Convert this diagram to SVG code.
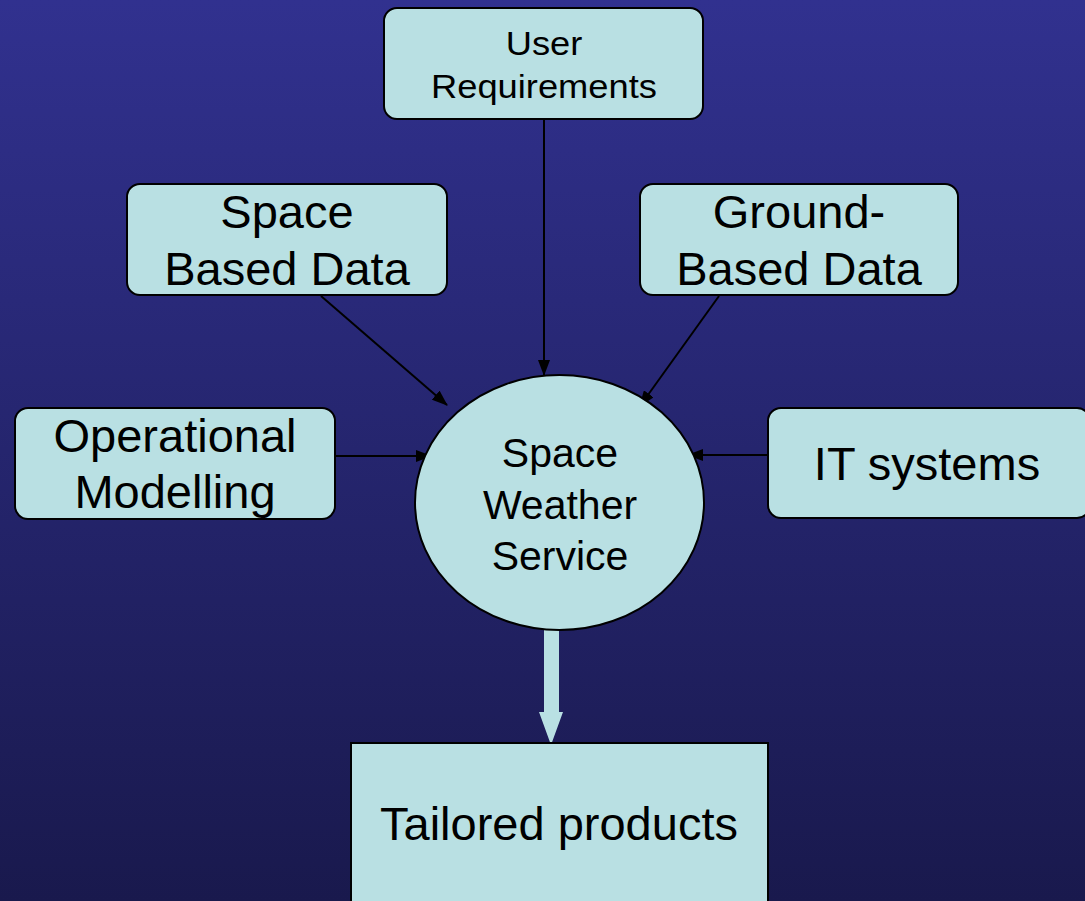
<svg xmlns="http://www.w3.org/2000/svg" width="1085" height="901" viewBox="0 0 1085 901">
  <style>
    .box { fill: #b9e0e3; stroke: #000; stroke-width: 2; }
    .lbl { font-family: "Liberation Sans", Arial, sans-serif; fill: #000; text-anchor: middle; }
    .edge { stroke: #000; stroke-width: 2; fill: none; }
  </style>
  <defs>
    <linearGradient id="bg" x1="0" y1="0" x2="0" y2="1">
      <stop offset="0" stop-color="#31318f"/>
      <stop offset="1" stop-color="#19194d"/>
    </linearGradient>
    <marker id="arrow" viewBox="0 0 16 12" refX="15" refY="6" markerWidth="16" markerHeight="12" markerUnits="userSpaceOnUse" orient="auto">
      <path d="M0,0 L16,6 L0,12 Z" fill="#000"/>
    </marker>
  </defs>

  <rect x="0" y="0" width="1085" height="901" fill="url(#bg)"/>

  <!-- connectors -->
  <g id="connectors">
    <line class="edge" x1="544" y1="119" x2="544" y2="375" marker-end="url(#arrow)"/>
    <line class="edge" x1="321" y1="296" x2="447" y2="405" marker-end="url(#arrow)"/>
    <line class="edge" x1="719" y1="296" x2="640" y2="406" marker-end="url(#arrow)"/>
    <line class="edge" x1="335" y1="456" x2="431" y2="456" marker-end="url(#arrow)"/>
    <line class="edge" x1="768" y1="455" x2="688" y2="455" marker-end="url(#arrow)"/>
    <!-- wide output arrow -->
    <path d="M544,628 L559,628 L559,712 L563,712 L551,745 L539,712 L544,712 Z" fill="#b9e0e3"/>
  </g>

  <g id="user-requirements">
    <rect class="box" x="384" y="8" width="319" height="111" rx="13"/>
    <text class="lbl" font-size="33" x="544" y="55" transform="translate(544 0) scale(1.1 1) translate(-544 0)">User</text>
    <text class="lbl" font-size="33" x="544" y="98" transform="translate(544 0) scale(1.1 1) translate(-544 0)">Requirements</text>
  </g>

  <g id="space-based-data">
    <rect class="box" x="127" y="184" width="320" height="111" rx="13"/>
    <text class="lbl" font-size="47" x="287" y="228">Space</text>
    <text class="lbl" font-size="47" x="287" y="285">Based Data</text>
  </g>

  <g id="ground-based-data">
    <rect class="box" x="640" y="184" width="318" height="111" rx="13"/>
    <text class="lbl" font-size="47" x="799" y="228">Ground-</text>
    <text class="lbl" font-size="47" x="799" y="285">Based Data</text>
  </g>

  <g id="operational-modelling">
    <rect class="box" x="15" y="408" width="320" height="111" rx="13"/>
    <text class="lbl" font-size="47" x="175" y="452">Operational</text>
    <text class="lbl" font-size="47" x="175" y="508">Modelling</text>
  </g>

  <g id="it-systems">
    <rect class="box" x="768" y="408" width="322" height="110" rx="13"/>
    <text class="lbl" font-size="47" x="927" y="480">IT systems</text>
  </g>

  <g id="space-weather-service">
    <ellipse class="box" cx="559.5" cy="502.5" rx="144.5" ry="127.5"/>
    <text class="lbl" font-size="41" x="560" y="467">Space</text>
    <text class="lbl" font-size="41" x="560" y="519">Weather</text>
    <text class="lbl" font-size="41" x="560" y="570">Service</text>
  </g>

  <g id="tailored-products">
    <rect class="box" x="351" y="743" width="417" height="170"/>
    <text class="lbl" font-size="47" x="559" y="840">Tailored products</text>
  </g>
</svg>
